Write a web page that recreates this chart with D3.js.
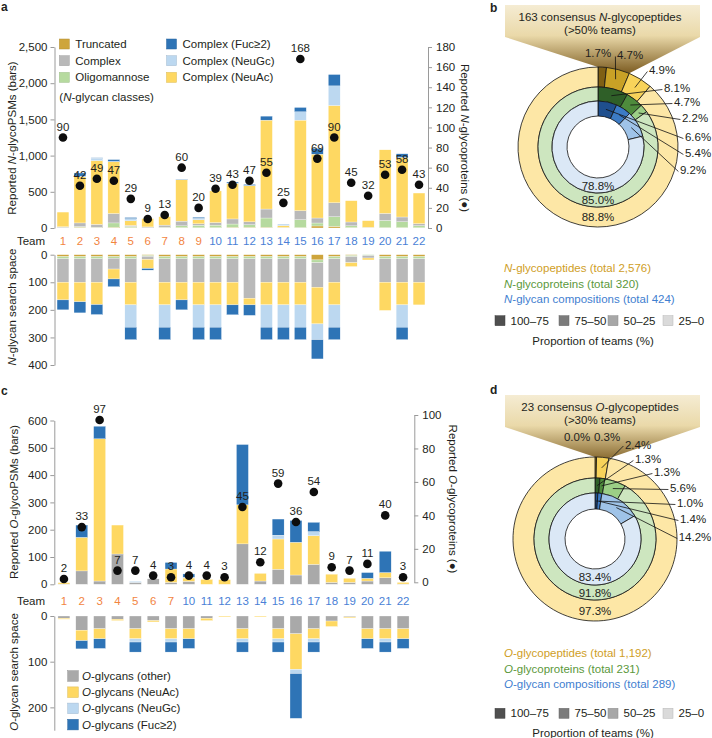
<!DOCTYPE html>
<html><head><meta charset="utf-8">
<script src="https://cdn.jsdelivr.net/npm/d3@7"></script>
<style>
body{margin:0;background:#fff}
svg{display:block}
text{font-family:"Liberation Sans",Arial,Helvetica,sans-serif;fill:#231f20}
</style>
</head><body>
<svg id="chart" width="712" height="738"></svg>
<script>
// ---------------- DATA ----------------
const teamsA = ["1","2","3","4","5","6","7","8","9","10","11","12","13","14","15","16","17","18","19","20","21","22"];
// Reported N-glycoPSMs by N-glycan class
const aTrunc   = [2,10,5,10,5,2,3,5,3,5,10,10,10,3,5,28,23,5,2,5,5,3];
const aOligo   = [5,10,5,60,15,3,7,25,35,35,45,35,128,0,110,41,133,25,3,100,82,29];
const aComplex = [10,50,40,130,15,10,30,65,20,35,70,40,124,5,124,69,193,53,5,97,65,28];
const aNeuAc   = [203,640,880,715,65,114,116,570,55,437,490,497,1228,25,1251,882,1343,294,91,878,823,423];
const aNeuGc   = [0,5,35,5,30,0,0,3,20,0,5,5,0,22,115,0,271,0,0,0,0,0];
const aFuc     = [0,45,5,25,15,0,0,5,15,0,15,15,55,0,60,79,157,0,0,0,50,0];
const aProteins = [90,42,49,47,29,9,13,60,20,39,43,47,55,25,168,69,90,45,32,53,58,43];
// N-glycan search space
const sTrunc   = [7,7,7,7,7,3,7,7,7,7,7,7,7,7,7,19,7,3,0,7,7,7];
const sOligo   = [8,8,8,6,8,3,8,8,8,8,8,8,8,8,8,10,8,4,3,8,8,8];
const sComplex = [85,85,85,39,85,11,85,85,85,85,85,143,85,85,85,89,85,22,9,85,85,85];
const sNeuAc   = [64,71,81,36,82,33,82,64,82,82,82,24,82,82,82,133,82,14,7,102,82,82];
const sNeuGc   = [0,0,0,0,81,0,81,0,81,81,0,0,81,81,81,57,81,0,0,0,81,0];
const sFuc     = [36,40,36,28,45,6,45,36,45,45,36,38,45,45,45,70,45,0,0,0,45,0];

const teamsC = ["1","2","3","4","5","6","7","10","11","12","13","14","15","16","17","18","19","20","21","22"];
const cOther  = [1,49,12,111,7,20,7,11,0,0,148,12,55,34,73,7,7,12,24,1];
const cNeuAc  = [5,123,521,106,0,0,49,12,18,17,143,28,111,120,105,30,15,10,19,6];
const cNeuGc  = [0,0,0,0,4,0,0,3,0,0,0,0,14,0,15,0,0,0,0,0];
const cFuc    = [0,45,46,0,0,0,24,12,0,0,221,0,59,80,34,0,0,21,78,0];
const cProteins = [2,33,97,7,7,4,3,4,4,3,45,12,59,36,54,9,7,11,40,3];
const csOther = [5,31,28,7,28,10,28,28,5,0,28,0,28,39,28,11,2,28,28,28];
const csNeuAc = [2,23,22,3,22,3,22,22,5,2,22,2,22,78,22,12,2,22,22,22];
const csNeuGc = [0,0,0,0,7,0,7,0,0,0,7,0,7,9,7,0,0,0,7,0];
const csFuc   = [0,18,21,0,22,0,22,21,0,0,22,0,22,98,22,0,0,21,22,21];

const aLeftTicks = [0,500,1000,1500,2000,2500];
const aRightTicks = [0,20,40,60,80,100,120,140,160,180];
const aSearchTicks = [0,100,200,300,400];
const cLeftTicks = [0,100,200,300,400,500,600];
const cRightTicks = [0,20,40,60,80,100];
const cSearchTicks = [0,100,200];

// donut data (% of items by proportion of teams: 100-75, 75-50, 50-25, 25-0)
const bPeptides = [1.7,4.7,4.9,88.8];
const bProteins = [8.1,4.7,2.2,85.0];
const bGlycans  = [6.6,5.4,9.2,78.8];
const dPeptides = [0.0,0.3,2.4,97.3];
const dProteins = [1.3,1.3,5.6,91.8];
const dGlycans  = [1.0,1.4,14.2,83.4];
const propLabels = ["100–75","75–50","50–25","25–0"];

// ---------------- STYLE ----------------
const svg = d3.select("#chart");
const FONT = '"Liberation Sans", Arial, Helvetica, sans-serif';
const COL = {trunc:"#cea53c", oligo:"#b6da9f", complex:"#b9b9b9", neuAc:"#fed862", neuGc:"#bcd8f0", fuc:"#2e74b6", other:"#a9a9a9"};
const ORANGE = "#f2853f", BLUE = "#4a7fd6", AXC = "#9a9a9a";
const FS = 11.5;

function styleAxis(g){
  g.attr("font-family", FONT).attr("font-size", FS);
  g.selectAll("path.domain").attr("stroke", AXC);
  g.selectAll(".tick line").attr("stroke", AXC);
  g.selectAll(".tick text").attr("fill", "#231f20");
}
function richText(g, x, y, parts, opts={}){
  const t = g.append("text").attr("x", x).attr("y", y).attr("font-size", opts.size||FS);
  if (opts.anchor) t.attr("text-anchor", opts.anchor);
  if (opts.fill) t.style("fill", opts.fill);
  if (opts.transform) t.attr("transform", opts.transform);
  parts.forEach(p => {
    const s = t.append("tspan").text(p[0]);
    if (p[1]) s.attr("font-style","italic");
  });
  return t;
}
function vTitle(x, y, parts, rot){
  richText(svg, 0, 0, parts, {anchor:"middle", transform:`translate(${x},${y}) rotate(${rot})`});
}
const teamColor = t => (+t < 10 ? ORANGE : BLUE);

// ---------------- PANEL A ----------------
const xA = d3.scaleBand().domain(teamsA).range([54.5, 427.5]).paddingInner(0.3).paddingOuter(0.15);
const yAL = d3.scaleLinear().domain([0,2500]).range([228,47]);
const yAR = d3.scaleLinear().domain([0,180]).range([228,47]);
const ySA = d3.scaleLinear().domain([0,400]).range([254.7,365]);

const keysA = ["trunc","oligo","complex","neuAc","neuGc","fuc"];
const aData = teamsA.map((t,i)=>({team:t,trunc:aTrunc[i],oligo:aOligo[i],complex:aComplex[i],neuAc:aNeuAc[i],neuGc:aNeuGc[i],fuc:aFuc[i]}));
const sData = teamsA.map((t,i)=>({team:t,trunc:sTrunc[i],oligo:sOligo[i],complex:sComplex[i],neuAc:sNeuAc[i],neuGc:sNeuGc[i],fuc:sFuc[i]}));

function drawStack(data, keys, x, y, down){
  const st = d3.stack().keys(keys)(data);
  svg.append("g").selectAll("g").data(st).join("g").attr("fill", s => COL[s.key])
    .selectAll("rect").data(s => s).join("rect")
    .attr("x", d => x(d.data.team)).attr("width", x.bandwidth())
    .attr("y", d => down ? y(d[0]) : y(d[1]))
    .attr("height", d => Math.abs(y(d[1]) - y(d[0])))
    .attr("stroke", "#ffffff").attr("stroke-width", 0.3);
}
drawStack(aData, keysA, xA, yAL, false);
drawStack(sData, keysA, xA, ySA, true);

function drawDots(teams, vals, x, y){
  const g = svg.append("g");
  teams.forEach((t,i)=>{
    const cx = x(t) + x.bandwidth()/2, cy = y(vals[i]);
    g.append("circle").attr("cx", cx).attr("cy", cy).attr("r", 4.3).attr("fill", "#0d0d0d");
    g.append("text").attr("x", cx).attr("y", cy - 7).attr("text-anchor","middle").attr("font-size", FS).text(vals[i]);
  });
}
drawDots(teamsA, aProteins, xA, yAR);

svg.append("g").attr("transform","translate(54.5,0)")
  .call(d3.axisLeft(yAL).tickValues(aLeftTicks).tickFormat(d3.format(",")).tickSize(4).tickSizeOuter(0).tickPadding(3)).call(styleAxis);
svg.append("g").attr("transform","translate(428,0)")
  .call(d3.axisRight(yAR).tickValues(aRightTicks).tickSize(4).tickSizeOuter(0).tickPadding(4)).call(styleAxis);
svg.append("g").attr("transform","translate(54.5,0)")
  .call(d3.axisLeft(ySA).tickValues(aSearchTicks).tickSize(4).tickSizeOuter(0).tickPadding(3)).call(styleAxis);

// team labels
svg.append("text").attr("x",45).attr("y",245).attr("text-anchor","end").attr("font-size",FS).text("Team");
teamsA.forEach(t => svg.append("text").attr("x", xA(t)+xA.bandwidth()/2).attr("y",245)
  .attr("text-anchor","middle").attr("font-size",FS).style("fill", teamColor(t)).text(t));

vTitle(16, 138, [["Reported "],["N",1],["-glycoPSMs (bars)"]], -90);
vTitle(16, 307, [["N",1],["-glycan search space"]], -90);
vTitle(461, 138, [["Reported "],["N",1],["-glycoproteins (●)"]], 90);

// legend A
const legA = [
  {k:"trunc", t:"Truncated", c:0, r:0},{k:"complex", t:"Complex", c:0, r:1},{k:"oligo", t:"Oligomannose", c:0, r:2},
  {k:"fuc", t:"Complex (Fuc≥2)", c:1, r:0},{k:"neuGc", t:"Complex (NeuGc)", c:1, r:1},{k:"neuAc", t:"Complex (NeuAc)", c:1, r:2}
];
legA.forEach(d=>{
  const x0 = d.c ? 166.5 : 59.3, y0 = 44 + d.r*16.7;
  svg.append("rect").attr("x",x0).attr("y",y0-5).attr("width",10).attr("height",10)
    .attr("fill",COL[d.k]).attr("stroke",d3.color(COL[d.k]).darker(0.4)).attr("stroke-width",0.5);
  svg.append("text").attr("x",x0+16).attr("y",y0+4).attr("font-size",FS).text(d.t);
});
richText(svg, 59.3, 101, [["("],["N",1],["-glycan classes)"]]);

// ---------------- PANEL C ----------------
const xC = d3.scaleBand().domain(teamsC).range([55,412]).paddingInner(0.33).paddingOuter(0.165);
const yCL = d3.scaleLinear().domain([0,600]).range([584.3,420.5]);
const yCR = d3.scaleLinear().domain([0,100]).range([582.3,415]);
const ySC = d3.scaleLinear().domain([0,250]).range([616,730.2]);
const keysC = ["other","neuAc","neuGc","fuc"];
const cData = teamsC.map((t,i)=>({team:t,other:cOther[i],neuAc:cNeuAc[i],neuGc:cNeuGc[i],fuc:cFuc[i]}));
const csData = teamsC.map((t,i)=>({team:t,other:csOther[i],neuAc:csNeuAc[i],neuGc:csNeuGc[i],fuc:csFuc[i]}));
drawStack(cData, keysC, xC, yCL, false);
drawStack(csData, keysC, xC, ySC, true);
drawDots(teamsC, cProteins, xC, yCR);

svg.append("g").attr("transform","translate(54.3,0)")
  .call(d3.axisLeft(yCL).tickValues(cLeftTicks).tickSize(4).tickSizeOuter(0).tickPadding(3)).call(styleAxis);
svg.append("g").attr("transform","translate(414.3,0)")
  .call(d3.axisRight(yCR).tickValues(cRightTicks).tickSize(4).tickSizeOuter(0).tickPadding(4)).call(styleAxis);
svg.append("g").attr("transform","translate(54.3,0)")
  .call(d3.axisLeft(ySC).tickValues(cSearchTicks).tickSize(4).tickSizeOuter(0).tickPadding(3)).call(styleAxis);

svg.append("text").attr("x",45).attr("y",605).attr("text-anchor","end").attr("font-size",FS).text("Team");
teamsC.forEach(t => svg.append("text").attr("x", xC(t)+xC.bandwidth()/2).attr("y",605)
  .attr("text-anchor","middle").attr("font-size",FS).style("fill", teamColor(t)).text(t));

vTitle(18, 502, [["Reported "],["O",1],["-glycoPSMs (bars)"]], -90);
vTitle(18, 672, [["O",1],["-glycan search space"]], -90);
vTitle(449, 499, [["Reported "],["O",1],["-glycoproteins (●)"]], 90);

const legC = [{k:"other",t:"-glycans (other)"},{k:"neuAc",t:"-glycans (NeuAc)"},{k:"neuGc",t:"-glycans (NeuGc)"},{k:"fuc",t:"-glycans (Fuc≥2)"}];
legC.forEach((d,i)=>{
  const y0 = 676 + i*16.2;
  svg.append("rect").attr("x",67.7).attr("y",y0-5.3).attr("width",10.6).attr("height",10.6)
    .attr("fill",COL[d.k]).attr("stroke",d3.color(COL[d.k]).darker(0.4)).attr("stroke-width",0.5);
  richText(svg, 82, y0+4, [["O",1],[d.t]]);
});

// panel letters
[["a",1,11],["b",490,12],["c",1,395],["d",490,394]].forEach(p =>
  svg.append("text").attr("x",p[1]).attr("y",p[2]).attr("font-size",12).attr("font-weight","bold").text(p[0]));

// ---------------- DONUTS ----------------
const RING_COL = {
  pep: ["#7f5f14","#c9a126","#f8d35a","#fde7a6"],
  pro: ["#2f5f28","#4e8b3c","#9ccf86","#cde6bf"],
  gly: ["#1f4f8e","#3c7bc5","#9fc3e8","#dbe8f6"]
};
const GRAYS = ["#4f4f4f","#7b7b7b","#a7a7a7","#dadada"];

function donut(cfg){
  const {cx, cy, rings, labelOffsets, noLine, funnelTop, funnelSegs, titleParts, subTitle, gradId, legendY, legendTexts, sqY, propY} = cfg;
  const R = rings[0].r1;
  // funnel
  const pieOuter = d3.pie().sort(null).value(d=>d)(rings[0].vals);
  const endA = pieOuter[funnelSegs-1].endAngle;
  const grad = svg.append("defs").append("linearGradient").attr("id",gradId)
    .attr("gradientUnits","userSpaceOnUse").attr("x1",0).attr("x2",0).attr("y1",funnelTop).attr("y2",cy-R+6);
  grad.append("stop").attr("offset",0).attr("stop-color","#f5ecd3");
  grad.append("stop").attr("offset",0.45).attr("stop-color","#ead9a9");
  grad.append("stop").attr("offset",1).attr("stop-color","#7d5d22");
  const pts = [[505,funnelTop],[700,funnelTop],[700,funnelTop+32],
    [cx+R*Math.sin(endA), cy-R*Math.cos(endA)],[cx,cy-R],[505,funnelTop+32]];
  svg.append("polygon").attr("points", pts.map(p=>p.join(",")).join(" ")).attr("fill",`url(#${gradId})`);
  richText(svg, 600, funnelTop+15.5, titleParts, {anchor:"middle"});
  svg.append("text").attr("x",600).attr("y",funnelTop+29).attr("text-anchor","middle").attr("font-size",FS).text(subTitle);

  const g = svg.append("g").attr("transform",`translate(${cx},${cy})`);
  const anchors = [];
  rings.forEach(rg=>{
    const arcs = d3.pie().sort(null).value(d=>d)(rg.vals);
    const arc = d3.arc().innerRadius(rg.r0).outerRadius(rg.r1);
    g.selectAll(null).data(arcs).join("path").attr("d",arc)
      .attr("fill",(d,i)=>rg.cols[i]).attr("stroke","#111").attr("stroke-width",0.8);
    arcs.slice(0,3).forEach(a=>{
      const m = (a.startAngle+a.endAngle)/2, rr = (rg.r0+rg.r1)/2;
      anchors.push({x: rr*Math.sin(m), y: -rr*Math.cos(m), v: a.data});
    });
    g.append("text").attr("x",0).attr("y",(rg.r0+rg.r1)/2+4).attr("text-anchor","middle")
      .attr("font-size",FS).text(rg.vals[3].toFixed(1)+"%");
  });
  anchors.forEach((a,i)=>{
    const lx = labelOffsets[i][0], ly = labelOffsets[i][1];
    const t = g.append("text").attr("x",lx).attr("y",ly+4).attr("text-anchor","middle").attr("font-size",FS)
      .text(a.v.toFixed(1)+"%");
    if (!noLine.includes(i)){
      const w = t.node().getComputedTextLength();
      g.append("line").attr("x1",a.x).attr("y1",a.y).attr("x2",lx-w/2-1.5).attr("y2",ly+1.5)
        .attr("stroke","#111").attr("stroke-width",0.8);
    }
  });
  const lc = ["#cf9e1f","#5b983b","#3f80d0"];
  legendTexts.forEach((lt,i)=> richText(svg, 504, legendY+i*15.5, lt, {fill: lc[i]}));
  const sqX = [495,559,608,663];
  propLabels.forEach((p,i)=>{
    svg.append("rect").attr("x",sqX[i]).attr("y",sqY-5).attr("width",10).attr("height",10)
      .attr("fill",GRAYS[i]).attr("stroke",d3.color(GRAYS[i]).darker(0.5)).attr("stroke-width",0.5);
    svg.append("text").attr("x",sqX[i]+15.5).attr("y",sqY+4).attr("font-size",FS).text(p);
  });
  svg.append("text").attr("x",593).attr("y",propY+4).attr("text-anchor","middle").attr("font-size",FS).text("Proportion of teams (%)");
}

donut({
  cx:598, cy:147,
  rings:[{vals:bPeptides,r0:60,r1:80,cols:RING_COL.pep},{vals:bProteins,r0:46,r1:60,cols:RING_COL.pro},{vals:bGlycans,r0:31,r1:46,cols:RING_COL.gly}],
  labelOffsets:[[0,-94],[32,-92],[64,-77],[79,-59],[89,-45],[97,-29],[100,-10],[100,6],[95,23]], noLine:[0],
  funnelTop:5, funnelSegs:2, gradId:"gb",
  titleParts:[["163 consensus "],["N",1],["-glycopeptides"]], subTitle:"(>50% teams)",
  legendY:272, legendTexts:[[["N",1],["-glycopeptides (total 2,576)"]],[["N",1],["-glycoproteins (total 320)"]],[["N",1],["-glycan compositions (total 424)"]]],
  sqY:320.7, propY:340.7
});
donut({
  cx:595, cy:539,
  rings:[{vals:dPeptides,r0:61,r1:82,cols:RING_COL.pep},{vals:dProteins,r0:46,r1:61,cols:RING_COL.pro},{vals:dGlycans,r0:30,r1:46,cols:RING_COL.gly}],
  labelOffsets:[[-18,-102],[12,-102],[43,-94.5],[53,-80],[72,-67],[88,-51],[95,-36],[98,-20],[100,-2]], noLine:[0,1],
  funnelTop:395, funnelSegs:3, gradId:"gd",
  titleParts:[["23 consensus "],["O",1],["-glycopeptides"]], subTitle:"(>30% teams)",
  legendY:657, legendTexts:[[["O",1],["-glycopeptides (total 1,192)"]],[["O",1],["-glycoproteins (total 231)"]],[["O",1],["-glycan compositions (total 289)"]]],
  sqY:713.3, propY:732.7
});
</script>
</body></html>
